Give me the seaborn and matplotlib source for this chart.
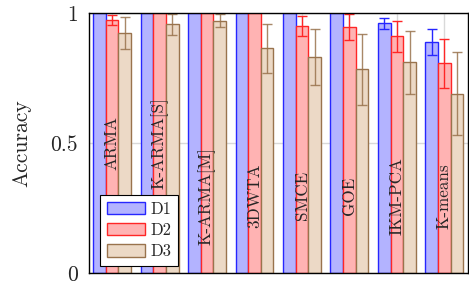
import numpy as np
import pandas as pd
import matplotlib
matplotlib.use("Agg")
import matplotlib.pyplot as plt
import seaborn as sns

sns.set_style("white")
plt.rcParams['font.family'] = ['cmr10', 'DejaVu Serif']
plt.rcParams['axes.formatter.use_mathtext'] = True
plt.rcParams['mathtext.fontset'] = 'cm'

methods = ["ARMA", "K-ARMA[S]", "K-ARMA[M]", "3DWTA", "SMCE", "GOE", "IKM-PCA", "K-means"]
datasets = ["D1", "D2", "D3"]

acc_d1 = [1.0, 1.0, 1.0, 1.0, 1.0, 1.0, 0.96, 0.89]
err_d1 = [0.0, 0.0, 0.0, 0.0, 0.0, 0.0, 0.02, 0.05]
acc_d2 = [0.973, 1.0, 1.0, 1.0, 0.95, 0.945, 0.91, 0.807]
err_d2 = [0.02, 0.0, 0.0, 0.0, 0.04, 0.05, 0.06, 0.094]
acc_d3 = [0.923, 0.957, 0.97, 0.865, 0.83, 0.783, 0.81, 0.69]
err_d3 = [0.06, 0.04, 0.025, 0.094, 0.108, 0.135, 0.12, 0.16]

fills = [(0.7, 0.7, 1.0), (1.0, 0.7, 0.7), (0.925, 0.85, 0.775)]
edges = [(0.15, 0.15, 1.0), (1.0, 0.15, 0.15), (0.6, 0.45, 0.3)]

df = pd.DataFrame({
    "Method": methods * 3,
    "Dataset": sum([[d] * len(methods) for d in datasets], []),
    "Accuracy": acc_d1 + acc_d2 + acc_d3,
    "Err": err_d1 + err_d2 + err_d3,
})

fig = plt.figure(figsize=(4.69, 2.89), dpi=100)
ax = fig.add_axes([0.19, 0.0554, 0.808, 0.8996])

sns.barplot(data=df, x="Method", y="Accuracy", hue="Dataset", order=methods,
            hue_order=datasets, palette=fills, errorbar=None, width=0.8,
            linewidth=1.0, saturation=1, ax=ax, zorder=2)

bar_sets = list(ax.containers)

# edge colours and error bars per series
for k, cont in enumerate(bar_sets):
    errs = [err_d1, err_d2, err_d3][k]
    xs, ys = [], []
    for p in cont.patches:
        p.set_edgecolor(edges[k])
        xs.append(p.get_x() + p.get_width() / 2)
        ys.append(p.get_height())
    xs, ys, e = np.array(xs), np.array(ys), np.array(errs)
    m = e > 0
    ax.errorbar(xs[m], ys[m], yerr=e[m], fmt="none", ecolor=edges[k],
                elinewidth=1.0, capsize=3.5, capthick=1.0, zorder=4,
                alpha=0.85 if k == 2 else 1.0)

# method names written inside the D2 bars
d2 = bar_sets[1].patches
for i, name in enumerate(methods):
    p = d2[i]
    ty = 0.5 if i < 2 else 0.297
    ax.text(p.get_x() + p.get_width() / 2, ty, name, rotation=90,
            ha="center", va="center", fontsize=12.3, zorder=5)

ax.set_xlim(-0.485, 7.5)
ax.set_ylim(0, 1)
ax.set_yticks([0, 0.5, 1])
ax.set_yticklabels(["0", "0.5", "1"], fontsize=15.5)
ax.set_xticks(range(len(methods)))
ax.set_xticklabels([])
ax.tick_params(axis="x", length=0)
ax.tick_params(axis="y", length=2, color="0.7", pad=6)
ax.set_xlabel("")
ax.set_ylabel("Accuracy", fontsize=15.5, labelpad=14)

ax.grid(True, color="0.85", linewidth=1.0, zorder=0)
ax.set_axisbelow(True)
for s in ax.spines.values():
    s.set_color("black")
    s.set_linewidth(1.0)
    s.set_zorder(6)

leg = ax.legend(loc="lower left", bbox_to_anchor=(0.029, 0.027), borderaxespad=0,
                fancybox=False, framealpha=1, edgecolor="black", fontsize=12,
                handlelength=2.3, handleheight=0.75, labelspacing=0.35,
                borderpad=0.4, handletextpad=0.3)
leg.get_frame().set_linewidth(0.8)
leg.set_zorder(7)
for h, ec in zip(leg.legend_handles, edges):
    h.set_edgecolor(ec)

fig.savefig("out.png", dpi=100)
